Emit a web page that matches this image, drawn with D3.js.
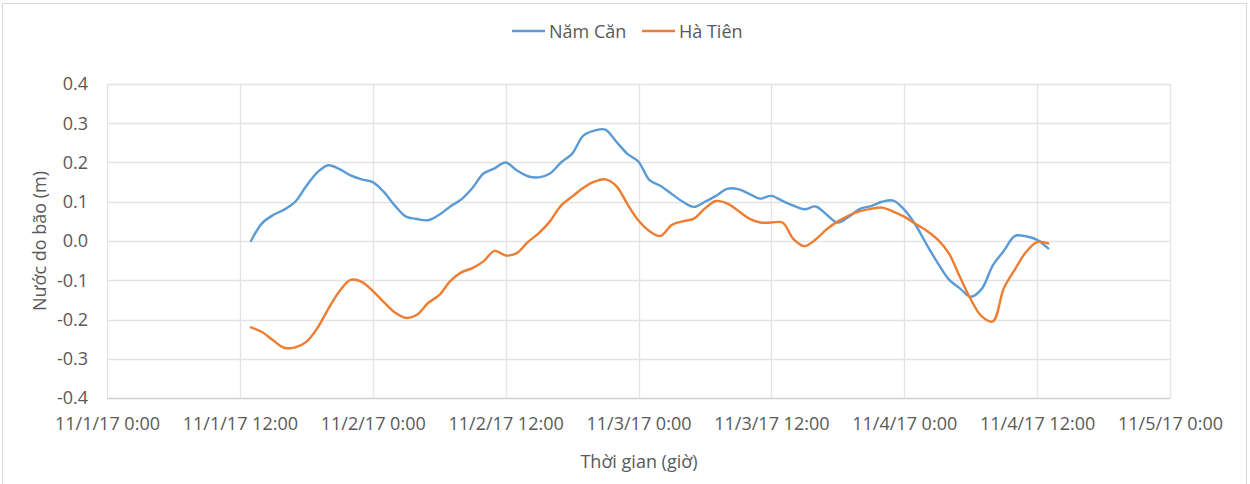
<!DOCTYPE html>
<html>
<head>
<meta charset="utf-8">
<script src="https://cdn.jsdelivr.net/npm/d3@7"></script>
<style>
  body { margin: 0; background: #fff; }
  text { font-family: "Open Sans", "Noto Sans", sans-serif; fill: #595959; }
</style>
</head>
<body>
<div id="chart"></div>
<script>
// hourly readings, starting 11/1/17 13:00
var startTime = new Date(2017, 10, 1, 13);
var namCan = [0.0, 0.045, 0.066, 0.08, 0.10, 0.14, 0.175, 0.193, 0.183, 0.167, 0.157, 0.15, 0.125, 0.09, 0.062,
  0.056, 0.053, 0.067, 0.088, 0.106, 0.135, 0.172, 0.185, 0.20, 0.18, 0.165, 0.162, 0.172, 0.20, 0.222,
  0.268, 0.281, 0.284, 0.253, 0.222, 0.202, 0.155, 0.14, 0.12, 0.10, 0.087, 0.10, 0.115, 0.133, 0.132,
  0.12, 0.108, 0.115, 0.102, 0.09, 0.081, 0.088, 0.067, 0.047, 0.062, 0.082, 0.089, 0.10, 0.103,
  0.08, 0.042, -0.008, -0.055, -0.097, -0.12, -0.142, -0.122, -0.062, -0.025, 0.013, 0.012, 0.003, -0.019];
var haTien = [-0.22, -0.232, -0.253, -0.272, -0.271, -0.257, -0.222, -0.172, -0.128, -0.099, -0.104, -0.127, -0.156, -0.182, -0.196,
  -0.188, -0.158, -0.138, -0.102, -0.08, -0.069, -0.052, -0.025, -0.037, -0.031, -0.003, 0.02, 0.05, 0.09, 0.113,
  0.135, 0.151, 0.157, 0.14, 0.094, 0.052, 0.025, 0.013, 0.041, 0.05, 0.057, 0.083, 0.102, 0.096, 0.077,
  0.057, 0.047, 0.047, 0.047, 0.005, -0.013, 0.004, 0.03, 0.05, 0.065, 0.076, 0.082, 0.085, 0.075,
  0.062, 0.044, 0.027, 0.004, -0.03, -0.09, -0.148, -0.192, -0.205, -0.12, -0.072, -0.028, -0.003, -0.006];
var seriesNames = ["Năm Căn", "Hà Tiên"];
var seriesColors = ["#5B9BD5", "#ED7D31"];
var yTicks = [-0.4, -0.3, -0.2, -0.1, 0.0, 0.1, 0.2, 0.3, 0.4];

var width = 1250, height = 484;
var plotLeft = 107, plotRight = 1170, plotTop = 84, plotBottom = 398;

var svg = d3.select("#chart").append("svg")
    .attr("width", width)
    .attr("height", height);

// chart border
svg.append("rect")
    .attr("x", 2.5).attr("y", 3.5)
    .attr("width", 1244).attr("height", 500)
    .attr("fill", "none")
    .attr("stroke", "#d9d9d9");

var x = d3.scaleTime()
    .domain([new Date(2017, 10, 1), new Date(2017, 10, 5)])
    .range([plotLeft, plotRight]);
var y = d3.scaleLinear()
    .domain([-0.4, 0.4])
    .range([plotBottom, plotTop]);

var xTicks = d3.timeHour.every(12).range(new Date(2017, 10, 1), new Date(2017, 10, 5, 1));
var fmt = d3.timeFormat("%-m/%-d/%y %-H:%M");
// Excel uses a plain hyphen for negatives
var yFmt = d => d3.format(".1f")(d).replace("\u2212", "-");

// grid
svg.append("g")
    .selectAll("line")
    .data(yTicks)
    .enter().append("line")
    .attr("x1", plotLeft).attr("x2", plotRight)
    .attr("y1", d => Math.round(y(d)) + 0.5)
    .attr("y2", d => Math.round(y(d)) + 0.5)
    .attr("stroke", d => d == -0.4 ? "#d0d0d0" : "#e3e3e3")
    .attr("stroke-width", 1.3);
svg.append("g")
    .selectAll("line")
    .data(xTicks)
    .enter().append("line")
    .attr("y1", plotTop).attr("y2", plotBottom)
    .attr("x1", d => Math.round(x(d)) + 0.5)
    .attr("x2", d => Math.round(x(d)) + 0.5)
    .attr("stroke", "#e3e3e3")
    .attr("stroke-width", 1.3);

// axes (labels only, Excel style)
var yAxis = svg.append("g")
    .attr("transform", "translate(" + plotLeft + ",0)")
    .call(d3.axisLeft(y).tickValues(yTicks).tickFormat(yFmt).tickSize(0).tickPadding(19));
yAxis.select(".domain").remove();
yAxis.selectAll("text").style("font-size", "18px").style("fill", "#595959").style("font-family", null);

var xAxis = svg.append("g")
    .attr("transform", "translate(0," + plotBottom + ")")
    .call(d3.axisBottom(x).tickValues(xTicks).tickFormat(fmt).tickSize(0).tickPadding(19));
xAxis.select(".domain").remove();
xAxis.selectAll("text").style("font-size", "18px").style("fill", "#595959").style("font-family", null);

// lines
var line = d3.line()
    .x((d, i) => x(d3.timeHour.offset(startTime, i)))
    .y(d => y(d))
    .curve(d3.curveCatmullRom.alpha(0.5));

[namCan, haTien].forEach(function (vals, s) {
    svg.append("path")
        .datum(vals)
        .attr("fill", "none")
        .attr("stroke", seriesColors[s])
        .attr("stroke-width", 2.4)
        .attr("stroke-linejoin", "round")
        .attr("stroke-linecap", "round")
        .attr("d", line);
});

// axis titles
svg.append("text")
    .attr("x", (plotLeft + plotRight) / 2 + 0.5)
    .attr("y", 468)
    .attr("text-anchor", "middle")
    .style("font-size", "18px")
    .text("Thời gian (giờ)");
svg.append("text")
    .attr("transform", "translate(46," + ((plotTop + plotBottom) / 2) + ") rotate(-90)")
    .attr("text-anchor", "middle")
    .style("font-size", "18px")
    .text("Nước do bão (m)");

// legend
var legendX = [512, 642];
seriesNames.forEach(function (name, s) {
    var g = svg.append("g").attr("transform", "translate(" + legendX[s] + ",31)");
    g.append("line")
        .attr("x1", 0).attr("x2", 33)
        .attr("stroke", seriesColors[s])
        .attr("stroke-width", 2.4);
    g.append("text")
        .attr("x", 37).attr("y", 6.5)
        .style("font-size", "18px")
        .text(name);
});
</script>
</body>
</html>
